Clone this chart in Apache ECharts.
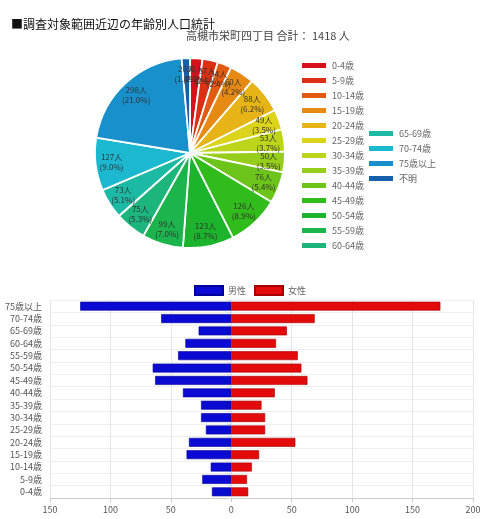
<!DOCTYPE html>
<html><head><meta charset="utf-8">
<script src="https://cdn.jsdelivr.net/npm/echarts@6/dist/echarts.min.js"></script>
<style>html,body{margin:0;padding:0;background:#fff}#c{width:500px;height:519px}</style>
</head><body><div id="c"></div>
<script>
const titleText = '■調査対象範囲近辺の年齢別人口統計';
const subText = '高槻市栄町四丁目 合計： 1418 人';
const pieNames = ['0-4歳','5-9歳','10-14歳','15-19歳','20-24歳','25-29歳','30-34歳','35-39歳','40-44歳','45-49歳','50-54歳','55-59歳','60-64歳','65-69歳','70-74歳','75歳以上','不明'];
const pieValues = [30,37,34,60,88,49,53,50,76,126,123,99,75,73,127,298,20];
const pieColors = ['#d8101c','#dc3014','#e05a12','#e68a14','#e6b416','#dcd41a','#bcd41a','#96cc1a','#6cc41a','#30bc1a','#1cb42c','#1cb44c','#1cb67c','#1cbaa4','#1cb8d0','#1890cc','#1460ac'];
const barCats = ['0-4歳','5-9歳','10-14歳','15-19歳','20-24歳','25-29歳','30-34歳','35-39歳','40-44歳','45-49歳','50-54歳','55-59歳','60-64歳','65-69歳','70-74歳','75歳以上'];
const maleValues = [16,24,17,37,35,21,25,25,40,63,65,44,38,27,58,125];
const femaleValues = [14,13,17,23,53,28,28,25,36,63,58,55,37,46,69,173];
const xTicks = [-150,-100,-50,0,50,100,150,200];

const total = pieValues.reduce((a,b)=>a+b,0);
const pieData = pieNames.map((n,i)=>({name:n, value:pieValues[i], itemStyle:{color:pieColors[i]}}));
const font = '"Noto Sans CJK JP", sans-serif';
const chart = echarts.init(document.getElementById('c'));
chart.setOption({
  animation:false,
  textStyle:{fontFamily:font},
  title:[
    {text:titleText, left:6, top:13, textStyle:{fontSize:12, fontWeight:'normal', color:'#111', fontFamily:font}},
    {text:subText, left:181, top:25, textStyle:{fontSize:11, fontWeight:'normal', color:'#444', fontFamily:font}}
  ],
  legend:[
    {data:pieNames.slice(0,13), orient:'vertical', left:295, top:55, itemWidth:26, itemHeight:7, itemGap:4, icon:'rect',
     textStyle:{fontSize:9, color:'#666', lineHeight:11}, selectedMode:false},
    {data:pieNames.slice(13), orient:'vertical', left:362, top:123, itemWidth:26, itemHeight:7, itemGap:4, icon:'rect',
     textStyle:{fontSize:9, color:'#666', lineHeight:11}, selectedMode:false},
    {data:['男性','女性'], left:'center', top:280, itemWidth:28, itemHeight:9, itemGap:8, icon:'rect',
     textStyle:{fontSize:9, color:'#666'}, selectedMode:false}
  ],
  grid:{left:50, right:27, top:300, height:198},
  xAxis:{type:'value', min:xTicks[0], max:xTicks[xTicks.length-1], interval:50,
    axisLabel:{formatter:v=>Math.abs(v), fontSize:9, color:'#555', margin:7},
    axisLine:{show:true, lineStyle:{color:'#ccc'}},
    axisTick:{show:true, length:4, lineStyle:{color:'#ccc'}},
    splitLine:{show:true, lineStyle:{color:'#e6e6e6'}}},
  yAxis:{type:'category', data:barCats,
    axisLabel:{fontSize:9, color:'#555', margin:8},
    axisLine:{show:true, lineStyle:{color:'#ddd'}},
    axisTick:{show:true, length:4, lineStyle:{color:'#ddd'}},
    splitLine:{show:true, lineStyle:{color:'#eee'}}},
  series:[
    {type:'pie', radius:[0,95], center:[190,153], startAngle:90, clockwise:true, data:pieData,
     itemStyle:{borderColor:'#fff', borderWidth:1.8}, label:{show:false}, labelLine:{show:false}, silent:true},
    {type:'pie', radius:[57,95], center:[190,153], startAngle:90, clockwise:true,
     data:pieNames.map((n,i)=>({name:n, value:pieValues[i]})),
     itemStyle:{color:'rgba(0,0,0,0)'}, silent:true, avoidLabelOverlap:false,
     labelLayout:{hideOverlap:false},
     label:{show:true, position:'inside', fontSize:8, color:'#333', lineHeight:10,
       formatter:p=>p.value+'人\n('+(p.value/total*100).toFixed(1)+'%)'},
     labelLine:{show:false}},
    {type:'bar', name:'男性', stack:'pop', data:maleValues.map(v=>-v), barWidth:'72%',
     itemStyle:{color:'#0a0ad2', borderColor:'#00009a', borderWidth:0.6}},
    {type:'bar', name:'女性', stack:'pop', data:femaleValues, barWidth:'72%',
     itemStyle:{color:'#e20a0a', borderColor:'#a80000', borderWidth:0.6}}
  ]
});
</script></body></html>
